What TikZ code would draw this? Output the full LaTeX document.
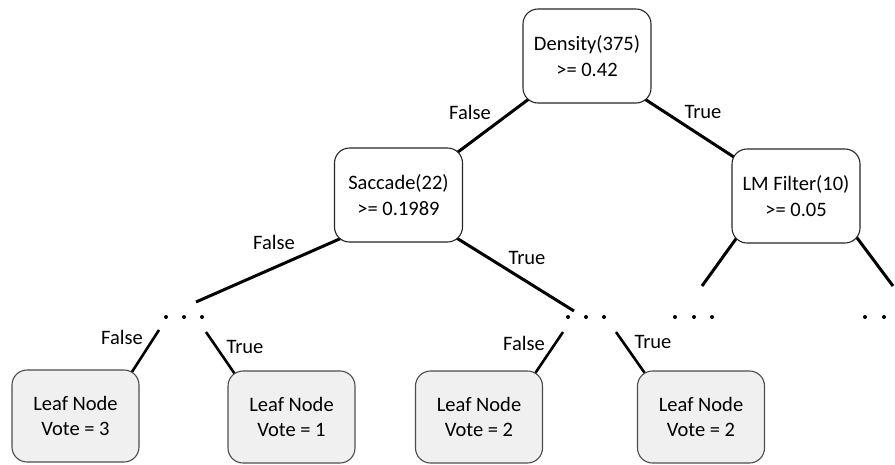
\documentclass[tikz,border=0pt]{standalone}
\usepackage{fontspec}
\setmainfont{Carlito}
\usetikzlibrary{backgrounds,calc}
\begin{document}
\begin{tikzpicture}[x=1pt,y=-1pt,
  txt/.style={font=\fontsize{20.5}{25.5}\selectfont, align=center},
  decision/.style={txt, draw=black!85, line width=1.1pt, fill=white, rounded corners=15pt, minimum width=128pt, minimum height=94pt, inner sep=0pt},
  leaf/.style={txt, draw=black!70, line width=1.1pt, fill=black!6, rounded corners=15pt, minimum width=127pt, minimum height=92pt, inner sep=0pt},
  lbl/.style={txt, inner sep=0pt},
  branch/.style={line width=3pt},
  twig/.style={line width=2.6pt},
  dotmark/.style={fill=black}
]
\useasboundingbox (0,0) rectangle (895,464);

% decision nodes
\node[decision] (density) at (587,56) {Density(375)\\>= 0.42};
\node[decision] (saccade) at (398.5,195) {Saccade(22)\\>= 0.1989};
\node[decision] (lm) at (796,196) {LM Filter(10)\\>= 0.05};

% leaf nodes
\node[leaf] (leafa) at (75.5,416) {Leaf Node\\Vote = 3};
\node[leaf] (leafb) at (291.5,417) {Leaf Node\\Vote = 1};
\node[leaf] (leafc) at (479,417) {Leaf Node\\Vote = 2};
\node[leaf] (leafd) at (701,417) {Leaf Node\\Vote = 2};

% attachment points on the boxes
\coordinate (dsw) at ([shift={(3pt,2pt)}]density.south west);
\coordinate (dse) at ([shift={(-3pt,2pt)}]density.south east);
\coordinate (sne) at ([shift={(-3pt,-3pt)}]saccade.north east);
\coordinate (lnw) at ([yshift=-7pt]lm.north west);
\coordinate (ssw) at ([shift={(2pt,2pt)}]saccade.south west);
\coordinate (sse) at ([shift={(-4pt,3pt)}]saccade.south east);
\coordinate (lsw) at ([shift={(4pt,4pt)}]lm.south west);
\coordinate (lse) at ([shift={(-3pt,5pt)}]lm.south east);
\coordinate (ane) at ([xshift=-6pt]leafa.north east);
\coordinate (bnw) at ([xshift=5pt]leafb.north west);
\coordinate (cne) at ([xshift=-6pt]leafc.north east);
\coordinate (dnw) at ([xshift=6pt]leafd.north west);

% free ends
\coordinate (sf) at (196,302);
\coordinate (st) at (574,311);
\coordinate (lml) at (702,286);
\coordinate (lmr) at (893,286);
\coordinate (la) at (159,330);
\coordinate (lb) at (206,332);
\coordinate (lc) at (563,332);
\coordinate (ld) at (616,332);

\begin{scope}[on background layer]
\draw[branch] ($(dsw)!-12pt!(sne)$) -- ($(sne)!-12pt!(dsw)$);
\draw[branch] ($(dse)!-12pt!(lnw)$) -- ($(lnw)!-12pt!(dse)$);
\draw[branch] ($(ssw)!-12pt!(sf)$) -- (sf);
\draw[branch] ($(sse)!-12pt!(st)$) -- (st);
\draw[branch] ($(lsw)!-12pt!(lml)$) -- (lml);
\draw[branch] ($(lse)!-12pt!(lmr)$) -- (lmr);
\draw[twig] (la) -- ($(ane)!-12pt!(la)$);
\draw[twig] (lb) -- ($(bnw)!-12pt!(lb)$);
\draw[twig] (lc) -- ($(cne)!-12pt!(lc)$);
\draw[twig] (ld) -- ($(dnw)!-12pt!(ld)$);
\end{scope}

% ellipsis dots
\foreach \x in {166,184,202, 568,586,604, 675,694,712, 865,884}
  \fill[dotmark] (\x,317) circle (2pt);

% branch labels
\node[lbl] (l1) at (470,112) {False};
\node[lbl] (l2) at (703,112) {True};
\node[lbl] (l3) at (274,242) {False};
\node[lbl] (l4) at (527,258) {True};
\node[lbl] (l5) at (122,337) {False};
\node[lbl] (l6) at (245,347) {True};
\node[lbl] (l7) at (524,343) {False};
\node[lbl] (l8) at (653,342) {True};
\end{tikzpicture}
\end{document}
